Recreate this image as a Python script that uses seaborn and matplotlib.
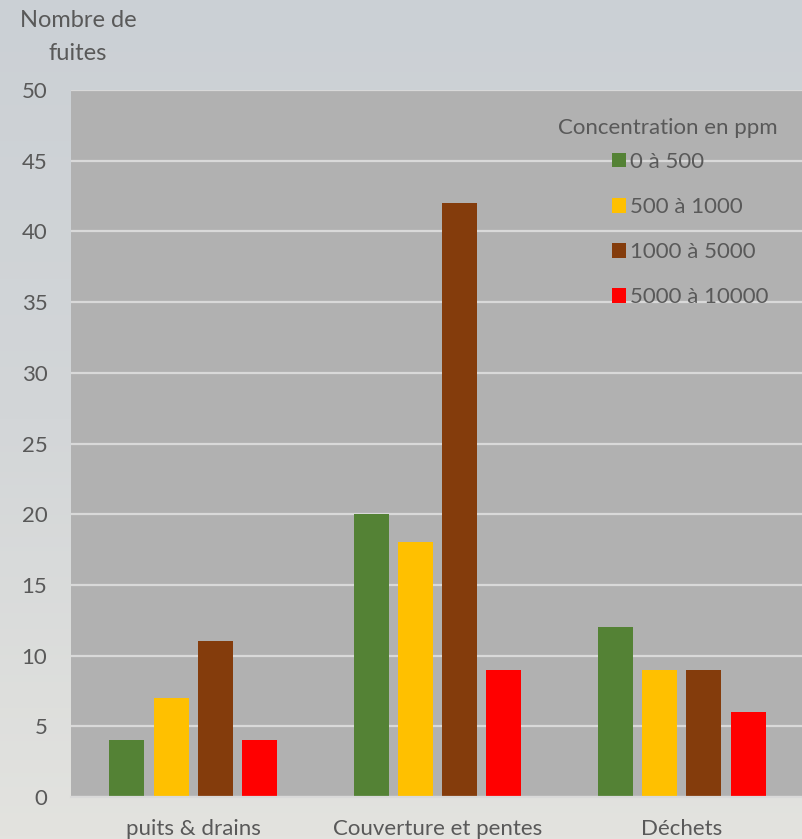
import numpy as np
import pandas as pd
import matplotlib
matplotlib.use("Agg")
import matplotlib.pyplot as plt
import seaborn as sns
from matplotlib.patches import Patch
from matplotlib.colors import LinearSegmentedColormap

# Data
categories = ["puits & drains", "Couverture et pentes", "Déchets"]
ranges = ["0 à 500", "500 à 1000", "1000 à 5000", "5000 à 10000"]
v_0_500 = [4, 20, 12]
v_500_1000 = [7, 18, 9]
v_1000_5000 = [11, 42, 9]
v_5000_10000 = [4, 9, 6]
colors = ["#548235", "#FFC000", "#843C0C", "#FF0000"]

series = [v_0_500, v_500_1000, v_1000_5000, v_5000_10000]
df = pd.DataFrame(
    [(c, r, v) for r, vals in zip(ranges, series) for c, v in zip(categories, vals)],
    columns=["categorie", "concentration", "fuites"],
)

sns.set_theme(style="white")
plt.rcParams["font.family"] = ["Lato", "DejaVu Sans"]
text_col = "#595959"
fs = 16

W, H = 803, 839
fig = plt.figure(figsize=(W / 100, H / 100), dpi=100)

# Soft gradient backdrop
bg = fig.add_axes([0, 0, 1, 1], zorder=-10)
bg_cmap = LinearSegmentedColormap.from_list("bg", ["#cbd0d5", "#d3d6d8", "#e3e3df"])
grad = np.linspace(0, 1, 256).reshape(-1, 1)
bg.imshow(grad, aspect="auto", cmap=bg_cmap, extent=[0, 1, 0, 1], origin="upper")
bg.set_axis_off()

left, right = 71 / W, 804 / W
bottom, top = 1 - 797 / H, 1 - 90 / H
ax = fig.add_axes([left, bottom, right - left, top - bottom])
ax.set_facecolor("#b1b1b1")

sns.barplot(
    data=df, x="categorie", y="fuites", hue="concentration",
    order=categories, hue_order=ranges, palette=colors,
    width=0.725, gap=0.21, errorbar=None, ax=ax, legend=False,
    saturation=1, linewidth=0,
)

ax.set_xlim(-0.5, 2.5)
ax.set_ylim(0, 50)
ax.set_yticks(range(0, 51, 5))
ax.yaxis.grid(True, color="#d9d9d9", linewidth=1.6)
ax.set_axisbelow(True)
for s in ["left", "right", "top"]:
    ax.spines[s].set_visible(False)
ax.spines["bottom"].set_color("#d9d9d9")
ax.spines["bottom"].set_linewidth(1.6)
ax.tick_params(axis="y", length=0, pad=17, labelsize=fs, labelcolor=text_col)
ax.tick_params(axis="x", length=0, pad=16, labelsize=fs, labelcolor=text_col)
ax.set_xlabel("")
ax.set_ylabel("")

fig.text(78 / W, 1 - 10 / H, "Nombre de\nfuites", ha="center", va="top",
         fontsize=17, color=text_col, linespacing=1.7)

fig.text(558 / W, 1 - 128 / H, "Concentration en ppm", ha="left", va="center",
         fontsize=fs, color=text_col)
handles = [Patch(facecolor=c, edgecolor="none") for c in colors]
leg = ax.legend(handles, ranges, loc="upper left",
                bbox_to_anchor=(612 / W, 1 - 152 / H), bbox_transform=fig.transFigure,
                frameon=False, fontsize=fs, labelcolor=text_col,
                handlelength=0.63, handleheight=0.63, handletextpad=0.2,
                labelspacing=1.13, borderaxespad=0, borderpad=0)

fig.savefig("out.png", dpi=100)
